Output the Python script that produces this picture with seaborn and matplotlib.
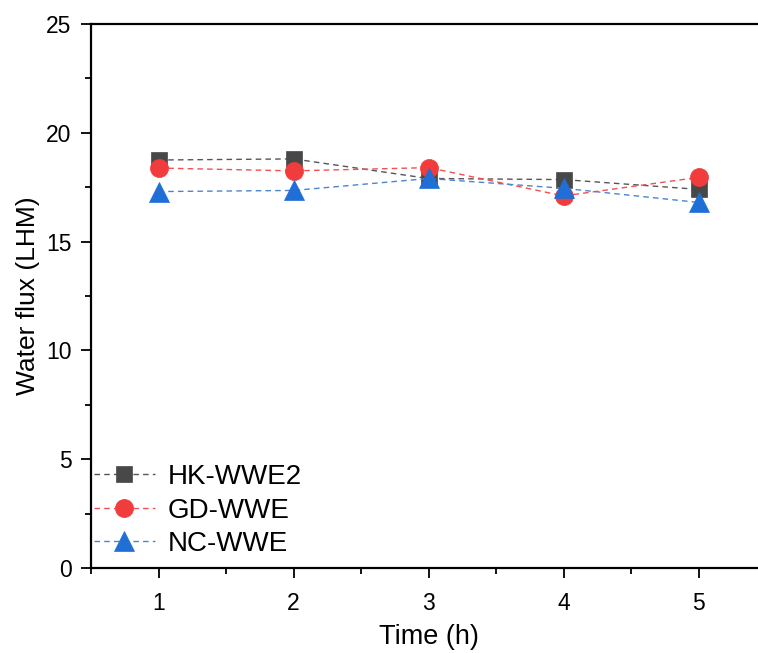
import matplotlib
matplotlib.use("Agg")
import matplotlib.pyplot as plt
import seaborn as sns
import pandas as pd
from matplotlib.ticker import MultipleLocator

time_h = [1, 2, 3, 4, 5]
hk_wwe2 = [18.75, 18.8, 17.9, 17.85, 17.4]
gd_wwe = [18.38, 18.25, 18.4, 17.1, 17.95]
nc_wwe = [17.3, 17.35, 17.9, 17.45, 16.8]
series_names = ["HK-WWE2", "GD-WWE", "NC-WWE"]

sns.set_theme(style="ticks")
plt.rcParams['font.family'] = ['Liberation Sans', 'DejaVu Sans']
plt.rcParams['text.color'] = 'black'
plt.rcParams['axes.labelcolor'] = 'black'

fig = plt.figure(figsize=(7.58, 6.53), dpi=100)
ax = fig.add_axes([91/758, 85/653, 675/758, 544/653])

styles = [
    dict(color="#484848", line="#555555", marker="s", ms=11.5),
    dict(color="#f03c3c", line="#f05050", marker="o", ms=13),
    dict(color="#1f6fd6", line="#4a85d0", marker="^", ms=14.5),
]
for name, vals, st in zip(series_names, [hk_wwe2, gd_wwe, nc_wwe], styles):
    df = pd.DataFrame({"Time": time_h, "Flux": vals})
    sns.lineplot(data=df, x="Time", y="Flux", ax=ax, label=name,
                 color=st["line"], linestyle=(0, (4, 3)), linewidth=1.0,
                 marker=st["marker"], markersize=st["ms"],
                 markerfacecolor=st["color"], markeredgecolor=st["color"],
                 markeredgewidth=0.5)

ax.set_xlim(0.5, 5.5)
ax.set_ylim(0, 25)
ax.xaxis.set_major_locator(MultipleLocator(1))
ax.xaxis.set_minor_locator(MultipleLocator(0.5))
ax.yaxis.set_major_locator(MultipleLocator(5))
ax.yaxis.set_minor_locator(MultipleLocator(2.5))

for s in ["left", "bottom", "top"]:
    ax.spines[s].set_visible(True)
    ax.spines[s].set_linewidth(1.6)
    ax.spines[s].set_color("black")
ax.spines["right"].set_visible(False)

ax.tick_params(axis="both", which="major", direction="out", length=7, width=1.3,
               labelsize=16.5, colors="black", labelcolor="black", pad=7)
ax.tick_params(axis="both", which="minor", direction="out", length=4, width=1.3,
               colors="black")
ax.tick_params(axis="x", which="both", top=False)
ax.tick_params(axis="x", which="major", pad=10)

ax.set_xlabel("Time (h)", fontsize=19.5, labelpad=7, color="black")
ax.set_ylabel("Water flux (LHM)", fontsize=19, labelpad=4, color="black")

leg = ax.legend(loc="lower left", bbox_to_anchor=(0.004, 0.02), frameon=False,
                fontsize=20, handlelength=2.2, handletextpad=0.45,
                labelspacing=0.27, borderpad=0, borderaxespad=0)
for t in leg.get_texts():
    t.set_color("black")

fig.savefig("out.png", dpi=100)
